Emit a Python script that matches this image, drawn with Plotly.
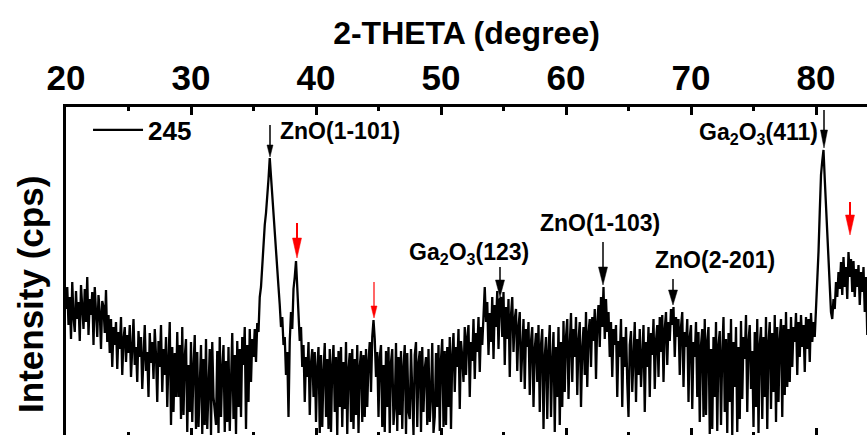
import plotly.graph_objects as go

# ---------------- data ----------------
two_theta_start = 20.0
two_theta_step = 0.1
intensity = [
    128,150,112,140,98,155,120,105,146,118,
    135,96,152,124,108,148,115,160,102,138,
    122,145,92,150,118,100,142,125,88,136,
    130,104,147,95,122,84,118,70,110,92,
    115,68,105,88,120,62,98,110,75,102,
    84,112,60,96,118,72,90,55,106,80,
    100,48,92,112,66,85,40,104,74,95,
    58,108,82,35,96,70,112,45,88,62,
    100,30,78,115,12,90,25,84,40,105,
    40,92,18,110,22,80,98,5,72,25,
    95,15,70,102,8,85,10,66,92,3,
    78,12,98,8,62,88,2,95,40,20,
    12,86,4,100,20,68,92,5,76,15,
    90,6,70,104,18,82,3,96,30,88,
    20,100,72,110,8,92,35,108,55,98,
    80,108,75,114,105,140,150,172,190,212,
    224,248,258,279,262,244,222,205,184,168,
    150,132,110,120,92,100,62,85,20,96,
    125,108,148,160,176,150,128,96,110,70,
    92,35,80,60,95,22,74,88,40,85,
    15,70,90,4,82,10,66,94,20,78,
    8,88,5,72,92,25,80,2,86,30,
    90,10,75,28,95,3,68,84,15,88,
    8,78,22,92,4,70,86,15,82,20,
    88,30,76,95,45,100,117,98,60,85,
    20,80,92,10,72,5,86,30,90,4,
    75,88,12,30,94,6,80,22,86,8,
    70,92,3,84,25,18,88,35,2,82,
    95,10,74,86,5,90,25,68,80,12,
    88,15,40,94,4,20,84,30,92,6,
    78,98,10,86,12,90,30,100,8,82,
    104,45,90,70,108,28,96,80,55,110,
    62,100,112,40,95,76,118,58,104,85,
    120,65,110,92,128,150,115,135,82,124,
    95,140,78,132,110,146,88,138,140,100,
    145,72,130,98,138,60,122,140,85,118,
    128,66,110,125,55,100,118,48,108,90,
    115,42,96,110,30,88,104,55,112,25,
    92,108,8,80,100,18,86,112,20,75,
    105,5,90,40,110,12,95,30,116,45,
    100,118,38,92,124,55,108,80,120,42,
    96,115,30,88,110,62,125,50,104,118,
    70,120,96,128,58,115,132,90,140,110,
    150,98,138,105,125,80,115,60,108,92,
    112,40,96,80,118,30,100,70,110,55,
    20,92,106,45,85,115,35,98,62,108,
    50,88,112,25,95,70,110,40,104,82,
    118,48,96,112,60,120,85,122,55,108,
    125,72,115,96,128,112,130,80,120,100,
    118,62,110,125,50,105,90,118,35,100,
    112,28,95,80,115,40,105,15,92,108,
    20,118,22,96,110,3,88,8,100,40,
    115,6,92,106,12,85,120,25,98,4,
    104,35,118,2,95,50,110,5,90,18,
    116,38,100,78,122,25,96,112,48,86,
    10,105,30,118,4,92,110,18,100,40,
    120,8,95,115,28,104,45,122,15,110,
    35,98,118,20,112,42,125,50,108,55,
    120,70,110,95,124,62,115,80,122,90,
    112,65,120,88,118,75,124,95,115,100,
    125,145,185,225,262,276,287,258,230,200,
    170,148,125,118,138,128,155,140,165,148,
    175,142,180,150,170,138,185,160,178,145,
    176,140,168,150,172,132,165,145,170,125,
    160,102,
]
two_theta = [round(two_theta_start + i * two_theta_step, 2) for i in range(len(intensity))]
series_name = "245"

x_tick_values = [20, 30, 40, 50, 60, 70, 80]
x_tick_labels = ["20", "30", "40", "50", "60", "70", "80"]

# peak labels
label_texts = ["ZnO(1-101)", "Ga<sub>2</sub>O<sub>3</sub>(411)", "Ga<sub>2</sub>O<sub>3</sub>(123)",
               "ZnO(1-103)", "ZnO(2-201)"]
label_x = [41.92, 75.36, 52.24, 62.72, 71.92]
label_y = [306, 304, 184, 214, 177]

# arrows: position, tip intensity, total length, head length, head width, shaft width, colour
arrow_x = [36.32, 38.48, 44.64, 54.72, 62.96, 68.56, 80.64, 82.72]
arrow_tip = [280, 179, 119, 140, 152, 132, 289, 202]
arrow_len = [32, 35, 36, 30, 43, 26, 38, 33]
arrow_head_len = [12, 20, 12, 17, 18, 15, 18, 20]
arrow_head_w = [6, 9, 6, 9, 9, 9, 7, 9]
arrow_shaft_w = [1.5, 2, 1.2, 1.5, 1.5, 1.5, 1.5, 2]
arrow_color = ["black", "red", "red", "black", "black", "black", "black", "red"]

# ---------------- figure ----------------
FONT = "Liberation Sans"
X_RANGE = [20, 84.08]
Y_RANGE = [2, 330]
PX_PER_DEG = 801 / (X_RANGE[1] - X_RANGE[0])

fig = go.Figure()
fig.add_trace(go.Scatter(
    x=two_theta, y=intensity, mode="lines", name=series_name,
    line=dict(color="black", width=2.3), showlegend=True,
))
# helper trace so the bottom tick axis is drawn
fig.add_trace(go.Scatter(x=[20, 84], y=[None, None], xaxis="x2", yaxis="y",
                         mode="lines", showlegend=False, hoverinfo="skip"))

shapes = []
for xa, tip, ln, hl, hw, sw, col in zip(arrow_x, arrow_tip, arrow_len, arrow_head_len,
                                         arrow_head_w, arrow_shaft_w, arrow_color):
    shapes.append(dict(type="line", xref="x", yref="y", x0=xa, x1=xa,
                       y0=tip + ln, y1=tip + hl - 2, line=dict(color=col, width=sw)))
    half = hw / 2 / PX_PER_DEG
    shapes.append(dict(type="path", xref="x", yref="y",
                       path=f"M{xa - half},{tip + hl} L{xa + half},{tip + hl} L{xa},{tip} Z",
                       fillcolor=col, line=dict(color=col, width=0.5)))

annotations = []
for t, lx, ly in zip(label_texts, label_x, label_y):
    annotations.append(dict(text=t, x=lx, y=ly, xref="x", yref="y", showarrow=False,
                            xanchor="center", yanchor="middle",
                            font=dict(family=FONT, size=23, color="black", weight="bold")))
annotations.append(dict(text="Intensity (cps)", textangle=-90, xref="paper", yref="paper",
                        x=-0.0437, y=0.43, showarrow=False, xanchor="center", yanchor="middle",
                        font=dict(family=FONT, size=35, color="black", weight="bold")))

fig.update_layout(
    width=867, height=435,
    margin=dict(l=66, r=0, t=107, b=0, pad=0),
    paper_bgcolor="white", plot_bgcolor="white",
    shapes=shapes, annotations=annotations,
    legend=dict(x=0.0275, y=0.93, xanchor="left", yanchor="middle",
                bgcolor="rgba(0,0,0,0)", itemwidth=50,
                font=dict(family=FONT, size=26, color="black", weight="bold")),
    xaxis=dict(
        side="top", range=X_RANGE, showgrid=False, zeroline=False,
        showline=True, linecolor="black", linewidth=3,
        ticks="inside", ticklen=8, tickwidth=3, tickcolor="black",
        tickvals=x_tick_values, ticktext=x_tick_labels,
        tickfont=dict(family=FONT, size=35, color="black", weight="bold"),
        minor=dict(dtick=5, tick0=20, ticks="inside", ticklen=4, tickwidth=3,
                   tickcolor="black", showgrid=False),
        title=dict(text="2-THETA (degree)", standoff=4,
                   font=dict(family=FONT, size=32, color="black", weight="bold")),
    ),
    xaxis2=dict(
        overlaying="x", side="bottom", anchor="y", range=X_RANGE, showgrid=False,
        zeroline=False, showline=False, showticklabels=False,
        ticks="inside", ticklen=7, tickwidth=3, tickcolor="black",
        tickvals=x_tick_values,
        minor=dict(dtick=5, tick0=20, ticks="inside", ticklen=3, tickwidth=3,
                   tickcolor="black", showgrid=False),
    ),
    yaxis=dict(
        range=Y_RANGE, showgrid=False, zeroline=False, showline=True,
        linecolor="black", linewidth=3, ticks="", showticklabels=False,
    ),
)

fig.write_html("out.html", post_script="document.body.style.margin='0';",
               config={"displayModeBar": False})
